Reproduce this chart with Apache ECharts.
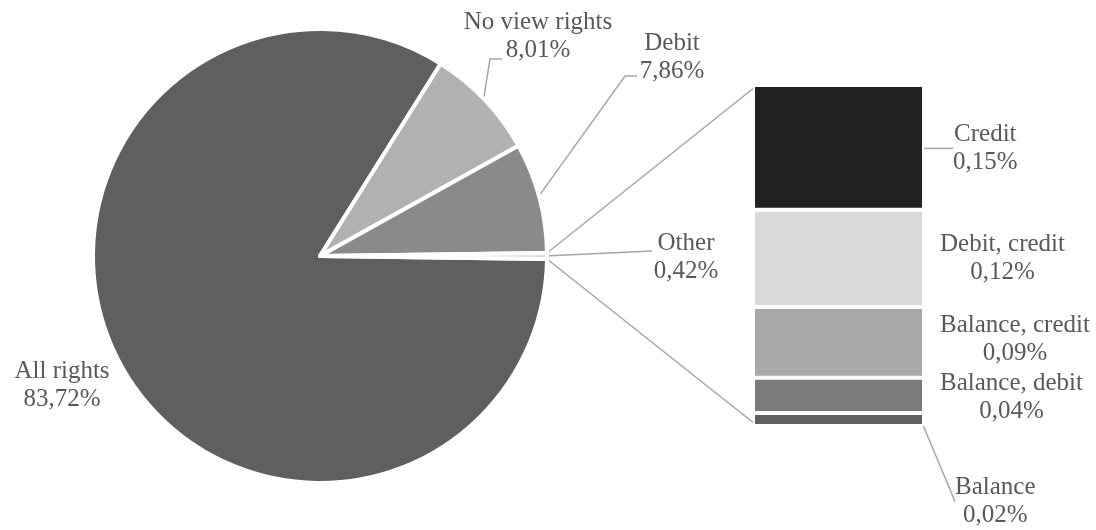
<!DOCTYPE html>
<html>
<head>
<meta charset="utf-8">
<script src="https://cdn.jsdelivr.net/npm/echarts@6/dist/echarts.min.js"></script>
<style>
  html, body { margin: 0; background: #fff; }
  #chart { width: 1096px; height: 530px; }
</style>
</head>
<body>
<div id="chart"></div>
<script>
// main pie
const pieNames = ['All rights', 'No view rights', 'Debit', 'Other']
const pieValues = [83.72, 8.01, 7.86, 0.42]
// breakdown of "Other", top to bottom
const barNames = ['Credit', 'Debit, credit', 'Balance, credit', 'Balance, debit', 'Balance']
const barValues = [0.153, 0.119, 0.087, 0.043, 0.016]

const pieColors = ['#5f5f5f', '#b1b1b1', '#8a8a8a', '#d9d9d9']
const barColors = ['#222222', '#d9d9d9', '#a9a9a9', '#7b7b7b', '#5f5f5f']
const lineColor = '#a6a6a6'
const font = { fontFamily: 'Liberation Serif', fontSize: 25, lineHeight: 28, color: '#595959' }
const fmt = (v) => v.toFixed(2).replace('.', ',') + '%'

const pieCenter = [320, 256]
const pieRadius = 227
const pieTotal = pieValues.reduce((a, b) => a + b, 0)
const otherSpan = (360 * pieValues[3]) / pieTotal
const startAngle = -otherSpan / 2
const barTotal = barValues.reduce((a, b) => a + b, 0)
const barGrid = { left: 753, top: 85, width: 171, height: 341 }

// where the pie labels sit (box centre) and where their leader ends
const pieLabelSpots = [
  { x: 62, y: 385 },
  { x: 538, y: 36, end: [-36, 23], bend: 12 },
  { x: 672, y: 57, end: [-35, 19], bend: 12 },
  { x: 686, y: 257, end: [-34, -6], bend: 0 },
]
const barLabelSpots = [
  { dx: 29, dy: 1, leader: true },
  { dx: 16, dy: 0 },
  { dx: 16, dy: -3 },
  { dx: 16, dy: 2 },
  { dx: 31, dy: 82, leader: true, drop: true },
]

const edgePoint = (deg, r) => {
  const a = (deg * Math.PI) / 180
  return [pieCenter[0] + r * Math.cos(a), pieCenter[1] - r * Math.sin(a)]
}
const midAngle = (i) => {
  let cum = 0
  for (let k = 0; k < i; k++) cum += pieValues[k]
  return startAngle - (360 * (cum + pieValues[i] / 2)) / pieTotal
}

const chart = echarts.init(document.getElementById('chart'))

const barSeries = barNames
  .map((name, i) => ({
    type: 'bar',
    name: name,
    stack: 'other',
    xAxisIndex: 0,
    yAxisIndex: 0,
    barWidth: '100%',
    data: [barValues[i]],
    itemStyle: { color: barColors[i], borderColor: '#fff', borderWidth: 2 },
    label: {
      show: true,
      position: 'right',
      formatter: (p) => p.seriesName + '\n' + fmt(p.value),
      ...font,
    },
    labelLine: { show: !!barLabelSpots[i].leader, lineStyle: { color: lineColor, width: 1.5 } },
    labelLayout: (p) => {
      const s = barLabelSpots[i]
      const r = p.rect
      const right = r.x + r.width
      const top = Math.min(r.y, r.y + r.height)
      const cy = top + Math.abs(r.height) / 2
      const w = p.labelRect.width
      const lx = right + s.dx
      const ly = cy + s.dy
      const out = { x: lx + w / 2, y: ly, align: 'center', verticalAlign: 'middle' }
      if (s.leader) {
        out.labelLinePoints = s.drop
          ? [[right, cy + 1], [right + 10, ly - 2], [lx - 9, ly - 2]]
          : [[right, cy + 1], [lx - 8, ly - 2]]
      }
      return out
    },
  }))
  .reverse()

chart.setOption({
  animation: false,
  backgroundColor: '#fff',
  grid: [{ ...barGrid }],
  xAxis: [{ type: 'category', gridIndex: 0, data: ['Other'], show: false }],
  yAxis: [{ type: 'value', gridIndex: 0, min: 0, max: barTotal, show: false }],
  series: [
    {
      type: 'pie',
      center: pieCenter,
      radius: pieRadius,
      startAngle: startAngle,
      clockwise: true,
      avoidLabelOverlap: false,
      data: pieNames.map((name, i) => ({
        name: name,
        value: pieValues[i],
        itemStyle: { color: pieColors[i] },
        labelLine: { show: i !== 0 },
      })),
      itemStyle: { borderColor: '#fff', borderWidth: 4 },
      label: {
        show: true,
        position: 'outside',
        formatter: (p) => p.name + '\n' + fmt(p.value),
        ...font,
      },
      labelLine: { show: true, smooth: false, lineStyle: { color: lineColor, width: 1.5 } },
      labelLayout: (p) => {
        const s = pieLabelSpots[p.dataIndex]
        const out = { x: s.x, y: s.y, align: 'center', verticalAlign: 'middle' }
        if (s.end) {
          const start = edgePoint(midAngle(p.dataIndex), pieRadius - 2)
          const ex = s.x + s.end[0]
          const ey = s.y + s.end[1]
          out.labelLinePoints = s.bend
            ? [start, [ex - s.bend, ey], [ex, ey]]
            : [start, [ex, ey]]
        }
        return out
      },
    },
    ...barSeries,
  ],
})

// connector lines from the "Other" slice to the bar
const yTop = chart.convertToPixel({ yAxisIndex: 0 }, barTotal)
const yBot = chart.convertToPixel({ yAxisIndex: 0 }, 0)
const barLeft = barGrid.left + 2
const p1 = edgePoint(startAngle + otherSpan, pieRadius)
const p2 = edgePoint(startAngle, pieRadius)
chart.setOption({
  graphic: [
    {
      type: 'line',
      shape: { x1: p1[0], y1: p1[1], x2: barLeft, y2: yTop + 2 },
      style: { stroke: lineColor, lineWidth: 1.5 },
      silent: true,
    },
    {
      type: 'line',
      shape: { x1: p2[0], y1: p2[1], x2: barLeft, y2: yBot - 2 },
      style: { stroke: lineColor, lineWidth: 1.5 },
      silent: true,
    },
  ],
})
</script>
</body>
</html>
